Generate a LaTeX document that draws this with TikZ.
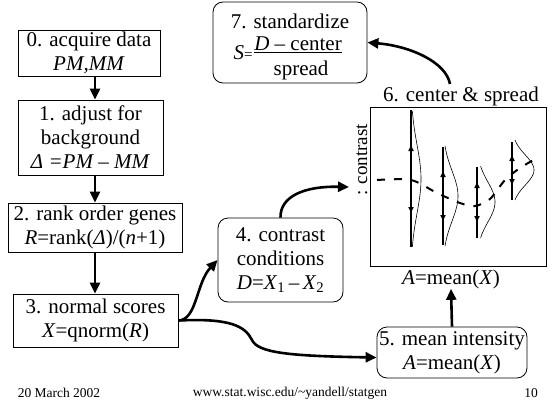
\documentclass[tikz,border=0pt]{standalone}
\usepackage{fontspec}
\setmainfont{Liberation Serif}
\usetikzlibrary{arrows.meta,calc}
\newcommand\mainsz{\fontsize{21}{24}\selectfont}
\newcommand\footsz{\fontsize{13.5}{13.5}\selectfont}
\newcommand\distcurve[7]{%
  \draw[line width=1.2pt] (#1,#5) -- (#1,#6);
  \draw[line width=2pt,{Triangle[length=6pt,width=5pt]}-{Triangle[length=6pt,width=5pt]}] (#1,#2-#3) -- (#1,#2+#3);
  \draw[line width=0.6pt] plot[domain=-#7:#7,samples=50,smooth] ({#1+#4*exp(-0.5*(\x)*(\x))},{#2+#3*\x});
}
\tikzset{
  box/.style={draw, line width=0.8pt, inner sep=0pt, align=center, font=\mainsz},
  rbox/.style={box, rounded corners=10pt},
  arr/.style={line width=2.6pt, -{Triangle[length=11pt,width=10pt]}},
  lbl/.style={inner sep=0pt, font=\mainsz},
}
\begin{document}
\begin{tikzpicture}[x=1pt,y=-1pt]
\useasboundingbox (0,0) rectangle (554,415);
% boxes
\node[box, minimum width=142pt, minimum height=46pt] (b0) at (89,53) {0. acquire data\\\textit{PM,MM}};
\node[box, minimum width=145pt, minimum height=75pt] (b1) at (90.5,137.5) {1. adjust for\\background\\\textit{Δ =PM – MM}};
\node[box, minimum width=174pt, minimum height=49pt] (b2) at (95,227.5) {2. rank order genes\\\textit{R}=rank(\textit{Δ})/(\textit{n}+1)};
\node[box, minimum width=165pt, minimum height=53pt] (b3) at (95.5,320.5) {3. normal scores\\\textit{X}=qnorm(\textit{R})};
\node[rbox, minimum width=125pt, minimum height=84pt] (b4) at (280.5,260) {4. contrast\\conditions\\\textit{D}=\textit{X}\textsubscript{1}\,–\,\textit{X}\textsubscript{2}};
\node[rbox, minimum width=150pt, minimum height=51pt] (b5) at (452,352.5) {5. mean intensity\\\textit{A}=mean(\textit{X})};
\node[rbox, minimum width=154pt, minimum height=81pt] (b7) at (290,42.5) {};
\node[lbl] (t7a) at (290,21) {7. standardize};
\node[lbl] (t7b) at (298,45) {\underline{\textit{D} – center}};
\node[lbl] (t7s) at (243,53) {\textit{S}{\fontsize{15}{15}\selectfont =}};
\node[lbl] (t7c) at (301,70) {spread};
% plot
\node[draw, line width=0.8pt, inner sep=0pt, minimum width=176pt, minimum height=159pt] (plot) at (458,186.5) {};
\node[lbl, anchor=south] (lab6) at ([xshift=3pt]plot.north) {6. center \& spread};
\node[lbl, anchor=north] (alab) at ([yshift=-3pt,xshift=-7pt]plot.south) {\textit{A}=mean(\textit{X})};
\node[inner sep=0pt, rotate=90, font=\fontsize{19}{19}\selectfont] (clab) at (362,160) {: contrast};
\distcurve{411}{179}{34}{10}{110}{247}{2}
\distcurve{443}{196}{25}{15}{147}{245}{2}
\distcurve{477}{202}{20}{18}{167}{238}{1.8}
\distcurve{512}{170}{15}{22}{142}{200}{2}
\draw[line width=2pt, dash pattern=on 8pt off 9pt] plot[smooth] coordinates {(377,180) (411,180) (437,193) (460,203) (475,206) (490,199) (505,180) (520,168) (537,158)};
% arrows
\draw[arr] (b0.south -| b2.north) -- (b1.north -| b2.north);
\draw[arr] (b1.south -| b2.north) -- (b2.north);
\draw[arr] (b2.south) -- (b3.north -| b2.south);
\draw[arr] (b3.east) .. controls (197,320) and (196,283) .. (b4.west);
\draw[arr] (b3.east) .. controls (230,318) and (245,326) .. (252,340) .. controls (258,353) and (290,356) .. ([yshift=-5pt]b5.west);
\coordinate (c4e) at (349,187);
\draw[arr] (b4.north) .. controls (280,196) and (305,186) .. (c4e);
\draw[arr] (b5.north) -- (alab.south);
\coordinate (c6s) at (450,84);
\draw[arr] (c6s) .. controls (446,62) and (410,46) .. (b7.east);
% footer
\node[inner sep=0pt, font=\footsz] (f1) at (59,393) {20 March 2002};
\node[inner sep=0pt, font=\footsz] (f2) at (290,393) {www.stat.wisc.edu/\textasciitilde yandell/statgen};
\node[inner sep=0pt, font=\footsz] (f3) at (531,393) {10};
\end{tikzpicture}
\end{document}
